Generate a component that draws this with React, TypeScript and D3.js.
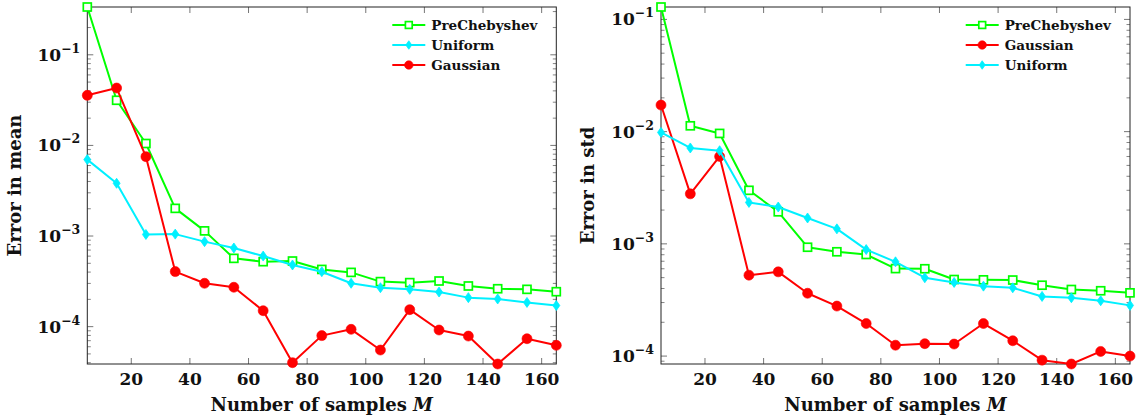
import React from 'react';
import * as d3 from 'd3';

const samples = [5, 15, 25, 35, 45, 55, 65, 75, 85, 95, 105, 115, 125, 135, 145, 155, 165];
const xTicks = [20, 40, 60, 80, 100, 120, 140, 160];

// Left panel: error in mean
const meanPreChebyshev = [0.337, 0.0315, 0.0105, 0.00202, 0.00114, 5.67e-4, 5.21e-4, 5.3e-4, 4.28e-4, 3.97e-4, 3.14e-4, 3.06e-4, 3.19e-4, 2.81e-4, 2.62e-4, 2.58e-4, 2.43e-4];
const meanUniform = [6.97e-3, 3.82e-3, 1.04e-3, 1.05e-3, 8.67e-4, 7.38e-4, 6.01e-4, 4.79e-4, 4.04e-4, 3.01e-4, 2.69e-4, 2.58e-4, 2.41e-4, 2.09e-4, 2.02e-4, 1.85e-4, 1.71e-4];
const meanGaussian = [0.0357, 0.043, 7.52e-3, 4.05e-4, 3.01e-4, 2.72e-4, 1.5e-4, 4.0e-5, 7.96e-5, 9.34e-5, 5.52e-5, 1.54e-4, 9.18e-5, 7.87e-5, 3.87e-5, 7.36e-5, 6.22e-5];

// Right panel: error in std
const stdPreChebyshev = [0.129, 0.01127, 9.64e-3, 3.0e-3, 1.93e-3, 9.33e-4, 8.5e-4, 8.04e-4, 6.02e-4, 6.0e-4, 4.81e-4, 4.78e-4, 4.76e-4, 4.28e-4, 3.92e-4, 3.82e-4, 3.66e-4];
const stdGaussian = [0.01725, 2.79e-3, 6.01e-3, 5.26e-4, 5.63e-4, 3.63e-4, 2.79e-4, 1.95e-4, 1.25e-4, 1.29e-4, 1.28e-4, 1.95e-4, 1.37e-4, 9.2e-5, 8.5e-5, 1.1e-4, 1.0e-4];
const stdUniform = [9.84e-3, 7.15e-3, 6.76e-3, 2.34e-3, 2.13e-3, 1.7e-3, 1.36e-3, 8.89e-4, 6.92e-4, 4.99e-4, 4.53e-4, 4.2e-4, 4.06e-4, 3.4e-4, 3.31e-4, 3.11e-4, 2.83e-4];

const FONT = "'DejaVu Serif', serif";
const GREEN = '#00ff00';
const RED = '#ff0000';
const CYAN = '#00f0ff';

type MarkerType = 'square' | 'circle' | 'diamond';
type Series = { name: string; values: number[]; color: string; marker: MarkerType };

function Marker({ type, x, y, color, scale = 1 }: { type: MarkerType; x: number; y: number; color: string; scale?: number }) {
  if (type === 'square') {
    const h = 4 * scale;
    return <rect x={x - h} y={y - h} width={2 * h} height={2 * h} fill="white" stroke={color} strokeWidth={1.7} />;
  }
  if (type === 'circle') {
    return <circle cx={x} cy={y} r={5 * scale} fill={color} stroke={color} strokeWidth={0.6} />;
  }
  const w = 3.5 * scale, h = 5 * scale;
  return <path d={`M${x},${y - h}L${x + w},${y}L${x},${y + h}L${x - w},${y}Z`} fill={color} stroke={color} strokeWidth={0.8} />;
}

function Panel({ x0, x1, y0, y1, series, legendOrder, ylabel, ylabelX, legendX }: {
  x0: number; x1: number; y0: number; y1: number; series: Series[]; legendOrder: string[]; ylabel: string; ylabelX: number; legendX: number;
}) {
  const all = series.flatMap(s => s.values);
  const x = d3.scaleLinear().domain([5, 165]).range([x0, x1]);
  const y = d3.scaleLog().domain([d3.min(all)!, d3.max(all)!]).range([y1, y0]);
  const [lo, hi] = y.domain();
  const majors: number[] = [];
  const minors: number[] = [];
  for (let e = Math.floor(Math.log10(lo)); e <= Math.ceil(Math.log10(hi)); e++) {
    for (let k = 1; k <= 9; k++) {
      const v = k * Math.pow(10, e);
      if (v < lo * 0.999 || v > hi * 1.001) continue;
      if (k === 1) majors.push(e); else minors.push(v);
    }
  }
  const line = d3.line<number>().x((_, i) => x(samples[i])).y(d => y(d));
  const tickColor = '#666';
  return (
    <g>
      {minors.map((v, i) => (
        <g key={'mn' + i} stroke={tickColor} strokeWidth={0.8}>
          <line x1={x0} x2={x0 + 3.5} y1={y(v)} y2={y(v)} />
          <line x1={x1} x2={x1 - 3.5} y1={y(v)} y2={y(v)} />
        </g>
      ))}
      {majors.map(e => (
        <g key={'mj' + e}>
          <line x1={x0} x2={x0 + 6} y1={y(Math.pow(10, e))} y2={y(Math.pow(10, e))} stroke={tickColor} strokeWidth={0.9} />
          <line x1={x1} x2={x1 - 6} y1={y(Math.pow(10, e))} y2={y(Math.pow(10, e))} stroke={tickColor} strokeWidth={0.9} />
          <text x={x0 - 7} y={y(Math.pow(10, e)) + 6} textAnchor="end" fontFamily={FONT} fontWeight="bold" fontSize={17} fill="#111">
            10<tspan dy={-8} fontSize={12.5}>{'\u2212' + (-e)}</tspan>
          </text>
        </g>
      ))}
      {xTicks.map(t => (
        <g key={'xt' + t}>
          <line x1={x(t)} x2={x(t)} y1={y1} y2={y1 - 6} stroke={tickColor} strokeWidth={0.9} />
          <line x1={x(t)} x2={x(t)} y1={y0} y2={y0 + 6} stroke={tickColor} strokeWidth={0.9} />
          <text x={x(t)} y={385} textAnchor="middle" fontFamily={FONT} fontWeight="bold" fontSize={17} fill="#111">{t}</text>
        </g>
      ))}
      <rect x={x0} y={y0} width={x1 - x0} height={y1 - y0} fill="none" stroke="#222" strokeWidth={1} />
      {series.map(s => (
        <g key={s.name}>
          <path d={line(s.values) || ''} fill="none" stroke={s.color} strokeWidth={2} strokeLinejoin="round" />
          {s.values.map((v, i) => (
            <Marker key={i} type={s.marker} x={x(samples[i])} y={y(v)} color={s.color} />
          ))}
        </g>
      ))}
      {legendOrder.map((name, i) => {
        const s = series.find(ss => ss.name === name)!;
        const ly = 25 + i * 20;
        return (
          <g key={'lg' + name}>
            <line x1={legendX} x2={legendX + 33} y1={ly} y2={ly} stroke={s.color} strokeWidth={2} />
            <Marker type={s.marker} x={legendX + 16.5} y={ly} color={s.color} scale={0.85} />
            <text x={legendX + 39} y={ly + 4.5} fontFamily={FONT} fontWeight="bold" fontSize={13.5} fill="#111">{name}</text>
          </g>
        );
      })}
      <text x={(x0 + x1) / 2} y={411} textAnchor="middle" fontFamily={FONT} fontWeight="bold" fontSize={18} fill="#111">
        Number of samples <tspan fontStyle="italic">M</tspan>
      </text>
      <text transform={`translate(${ylabelX},${(y0 + y1) / 2}) rotate(-90)`} textAnchor="middle" fontFamily={FONT} fontWeight="bold" fontSize={18} fill="#111">
        {ylabel}
      </text>
    </g>
  );
}

export default function App() {
  const left: Series[] = [
    { name: 'PreChebyshev', values: meanPreChebyshev, color: GREEN, marker: 'square' },
    { name: 'Uniform', values: meanUniform, color: CYAN, marker: 'diamond' },
    { name: 'Gaussian', values: meanGaussian, color: RED, marker: 'circle' },
  ];
  const right: Series[] = [
    { name: 'PreChebyshev', values: stdPreChebyshev, color: GREEN, marker: 'square' },
    { name: 'Gaussian', values: stdGaussian, color: RED, marker: 'circle' },
    { name: 'Uniform', values: stdUniform, color: CYAN, marker: 'diamond' },
  ];
  return (
    <svg width={1136} height={419} style={{ position: 'absolute', left: 0, top: 0, background: 'white' }}>
      <Panel x0={87.3} x1={556.3} y0={7} y1={364} series={left} legendOrder={['PreChebyshev', 'Uniform', 'Gaussian']} ylabel="Error in mean" ylabelX={21} legendX={392.3} />
      <Panel x0={661} x1={1130} y0={7} y1={364} series={right} legendOrder={['PreChebyshev', 'Gaussian', 'Uniform']} ylabel="Error in std" ylabelX={594} legendX={965.7} />
    </svg>
  );
}
